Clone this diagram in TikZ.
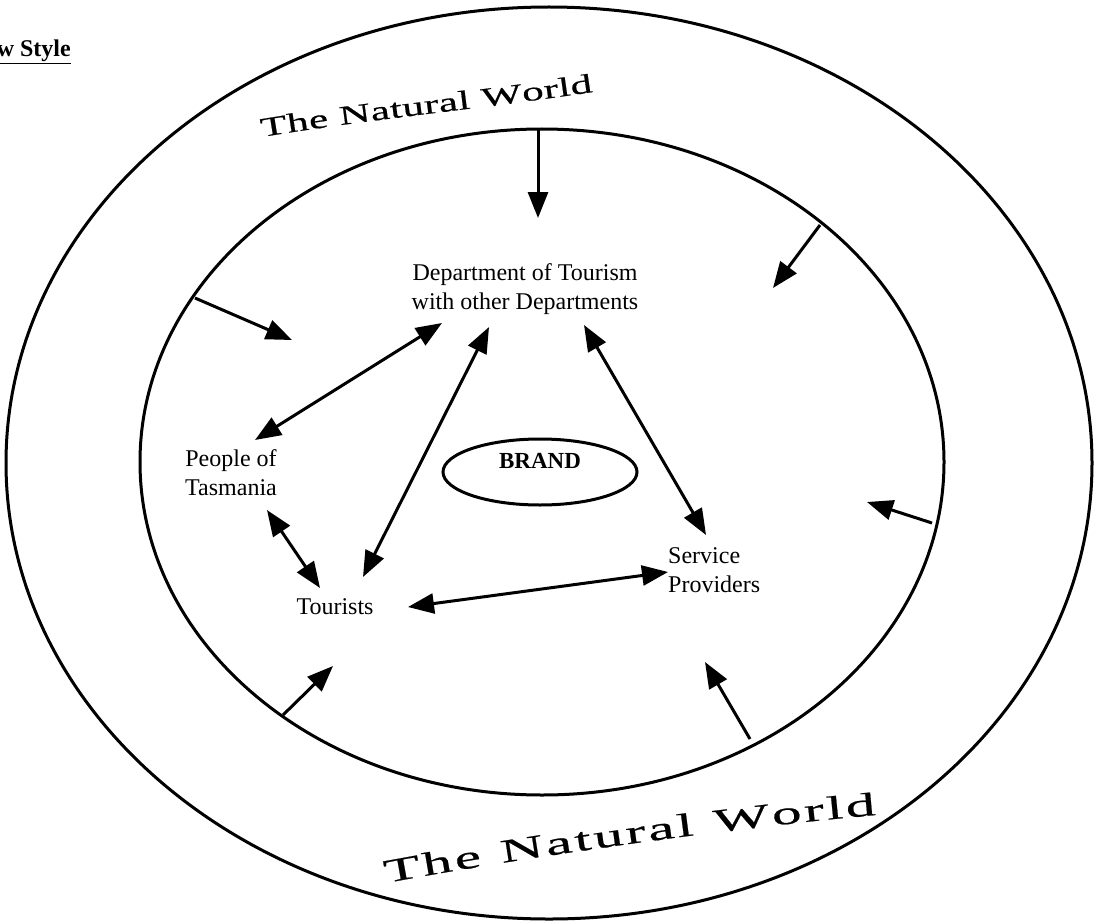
\documentclass[tikz,border=0pt]{standalone}
\usepackage{fontspec}
\setmainfont{Liberation Serif}
\newfontfamily\wideA[FakeStretch=1.6,FakeBold=0.6]{Liberation Serif}
\newfontfamily\wideB[FakeStretch=1.8,FakeBold=0.6]{Liberation Serif}
\usetikzlibrary{arrows.meta,shapes.geometric,decorations.text}

\begin{document}
\begin{tikzpicture}[x=1pt,y=-1pt,
  ring/.style={draw, ellipse, line width=3pt, inner sep=0pt},
  lbl/.style={font=\fontsize{24}{29}\selectfont, inner sep=0pt, align=center},
  inarrow/.style={line width=3pt, -{Triangle[length=26pt,width=20pt]}},
  biarrow/.style={line width=3pt, {Triangle[length=26pt,width=20pt]}-{Triangle[length=26pt,width=20pt]}},
]
\useasboundingbox (0,0) rectangle (1094,923);

% title fragment
\node[anchor=base east, inner sep=0pt, font=\fontsize{24}{29}\selectfont\bfseries] (title) at (71,57) {\underline{w Style}};

% rings
\node[ring, minimum width=1086pt, minimum height=912pt] (outer) at (549,463) {};
\node[ring, minimum width=804pt, minimum height=666pt] (inner) at (542,462) {};

% curved labels
\path[decorate, decoration={text along path, text align={fit to path},
  text={|\wideA\fontsize{27}{27}\selectfont|The Natural World}}]
  (262,137) .. controls (370,119) and (480,109) .. (593,92);
\path[decorate, decoration={text along path, text align={fit to path},
  text={|\wideB\fontsize{33}{33}\selectfont|The Natural World}}]
  (386,883) .. controls (520,858) and (720,829) .. (876,815);

% main nodes
\node[lbl] (dept) at (525,289) {Department of Tourism\\with other Departments};
\node[lbl] (people) at (231,473) {People of\\Tasmania};
\node[lbl] (tourists) at (335,607) {Tourists};
\node[lbl, align=left, anchor=west] (service) at (668,570) {Service\\Providers};
\node[draw, ellipse, line width=3pt, minimum width=194pt, minimum height=66pt, inner sep=0pt] (brand) at (540,472) {};
\node[inner sep=0pt, font=\fontsize{23}{28}\selectfont\bfseries] (brandtxt) at (540,461) {BRAND};

% arrow end points
\coordinate (s1) at (538,130);  \coordinate (t1) at (538,218);
\coordinate (s2) at (820,225);  \coordinate (t2) at (773,288);
\coordinate (s3) at (195,298);  \coordinate (t3) at (292,340);
\coordinate (s4) at (932,523);  \coordinate (t4) at (867,502);
\coordinate (s5) at (283,715);  \coordinate (t5) at (333,666);
\coordinate (s6) at (750,739);  \coordinate (t6) at (705,662);

\coordinate (dP) at (442,323);  \coordinate (pD) at (255,440);
\coordinate (dT) at (489,327);  \coordinate (tD) at (363,577);
\coordinate (dS) at (584,325);  \coordinate (sD) at (706,535);
\coordinate (pT) at (267,510);  \coordinate (tP) at (320,588);
\coordinate (tS) at (408,607);  \coordinate (sT) at (668,572);

% influences of the natural world
\draw[inarrow] (s1) -- (t1);
\draw[inarrow] (s2) -- (t2);
\draw[inarrow] (s3) -- (t3);
\draw[inarrow] (s4) -- (t4);
\draw[inarrow] (s5) -- (t5);
\draw[inarrow] (s6) -- (t6);

% relations
\draw[biarrow] (dP) -- (pD);
\draw[biarrow] (dT) -- (tD);
\draw[biarrow] (dS) -- (sD);
\draw[biarrow] (pT) -- (tP);
\draw[biarrow] (tS) -- (sT);
\end{tikzpicture}
\end{document}
